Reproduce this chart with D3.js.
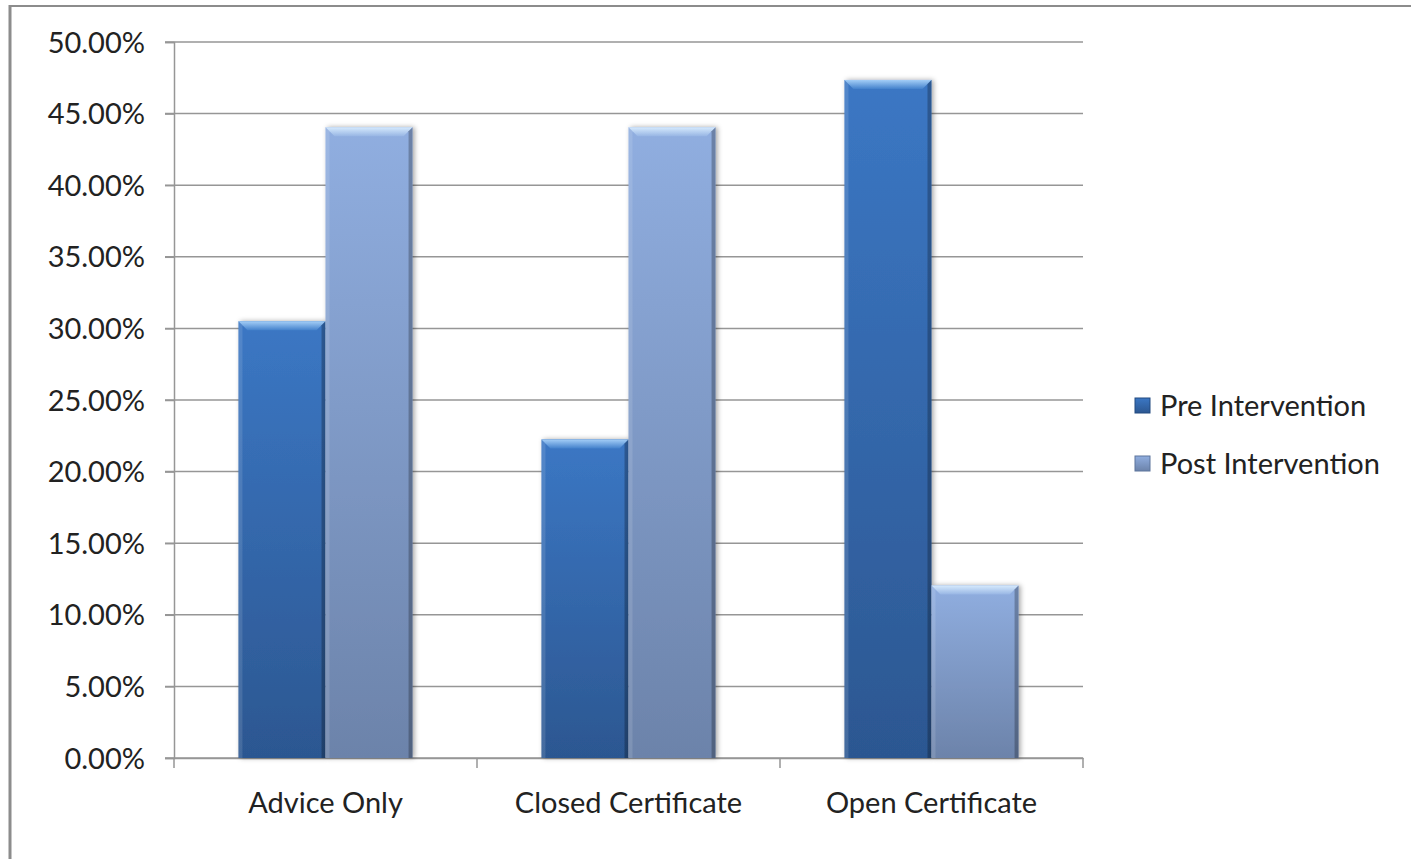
<!DOCTYPE html>
<html>
<head>
<meta charset="utf-8">
<title>Intervention chart</title>
<script src="https://cdn.jsdelivr.net/npm/d3@7"></script>
<style>
  body { margin: 0; background: #fff; }
  text { font-family: Lato, "Open Sans", sans-serif; fill: #222; }
</style>
</head>
<body>
<script>
var categories = ["Advice Only", "Closed Certificate", "Open Certificate"];
var seriesNames = ["Pre Intervention", "Post Intervention"];
var preValues = [0.305, 0.2225, 0.4735];
var postValues = [0.4405, 0.4405, 0.1205];
var yTicks = [0, 0.05, 0.10, 0.15, 0.20, 0.25, 0.30, 0.35, 0.40, 0.45, 0.50];

var width = 1411, height = 859;
var plotLeft = 174, plotRight = 1083, plotTop = 42, plotBottom = 758;

var svg = d3.select("body").append("svg")
  .attr("width", width)
  .attr("height", height);

var defs = svg.append("defs");
function grad(id, c1, c2) {
  var g = defs.append("linearGradient").attr("id", id)
    .attr("x1", 0).attr("y1", 0).attr("x2", 0).attr("y2", 1);
  g.append("stop").attr("offset", "0%").attr("stop-color", c1);
  g.append("stop").attr("offset", "100%").attr("stop-color", c2);
}
grad("g0", "#3b77c4", "#2c5791");
grad("g1", "#90aee0", "#6c83aa");
grad("b0", "#a4cef7", "#4482cc");
grad("b1", "#d6eafd", "#98b6e4");
var f = defs.append("filter").attr("id", "sh").attr("x", -0.1).attr("width", 1.3);
f.append("feDropShadow").attr("dx", 2).attr("dy", 0).attr("stdDeviation", 2.5)
  .attr("flood-color", "#000").attr("flood-opacity", 0.35);

// frame
svg.append("line").attr("x1", 10).attr("x2", 10).attr("y1", 5).attr("y2", height)
  .attr("stroke", "#8c8c8c").attr("stroke-width", 3);
svg.append("line").attr("x1", 9).attr("x2", width).attr("y1", 6).attr("y2", 6)
  .attr("stroke", "#8c8c8c").attr("stroke-width", 2);

var y = d3.scaleLinear().domain([0, 0.5]).range([plotBottom, plotTop]);
var x = d3.scaleBand().domain(categories).range([plotLeft, plotRight]).paddingInner(0).paddingOuter(0);
var xs = d3.scaleBand().domain([0, 1]).range([0, x.bandwidth()]).paddingInner(0).paddingOuter(0.74);

// grid
svg.append("g").selectAll("line").data(yTicks).enter().append("line")
  .attr("x1", plotLeft - 9).attr("x2", plotRight)
  .attr("y1", function(d) { return y(d); }).attr("y2", function(d) { return y(d); })
  .attr("stroke", "#969696").attr("stroke-width", 1.5);

// y axis
var yAxis = d3.axisLeft(y).tickValues(yTicks).tickFormat(d3.format(".2%")).tickSize(9);
var gy = svg.append("g").attr("transform", "translate(" + plotLeft + ",0)").call(yAxis);
gy.select(".domain").attr("stroke", "#969696").attr("stroke-width", 1.5);
gy.selectAll(".tick line").attr("stroke", "#969696").attr("stroke-width", 1.5);
gy.selectAll("text").attr("x", -29).attr("dy", "0.35em").style("font-size", "29px").attr("fill", "#222");

// x axis
var xAxis = d3.axisBottom(x).tickSize(0).tickSizeOuter(0);
var gx = svg.append("g").attr("transform", "translate(0," + plotBottom + ")").call(xAxis);
gx.select(".domain").attr("stroke", "#969696").attr("stroke-width", 1.5);
gx.selectAll("text").attr("y", 34).style("font-size", "29px").attr("fill", "#222");
var bounds = categories.map(function(c) { return x(c); }).concat([plotRight]);
gx.selectAll(".sep").data(bounds).enter().append("line")
  .attr("x1", function(d) { return d; }).attr("x2", function(d) { return d; })
  .attr("y1", 0).attr("y2", 10).attr("stroke", "#969696").attr("stroke-width", 1.5);

// bars
var rows = [];
categories.forEach(function(c, i) {
  rows.push({ cat: c, s: 0, v: preValues[i] });
  rows.push({ cat: c, s: 1, v: postValues[i] });
});
var bars = svg.append("g").selectAll("g").data(rows).enter().append("g");
bars.append("rect")
  .attr("x", function(d) { return x(d.cat) + xs(d.s); })
  .attr("y", function(d) { return y(d.v); })
  .attr("width", xs.bandwidth())
  .attr("height", function(d) { return y(0) - y(d.v); })
  .attr("fill", function(d) { return "url(#g" + d.s + ")"; })
  .attr("filter", "url(#sh)");
// top bevel
var bv = 9;
bars.append("polygon")
  .attr("points", function(d) {
    var x0 = x(d.cat) + xs(d.s), x1 = x0 + xs.bandwidth(), y0 = y(d.v);
    return [[x0, y0], [x1, y0], [x1 - bv, y0 + bv], [x0 + bv, y0 + bv]].join(" ");
  })
  .attr("fill", function(d) { return "url(#b" + d.s + ")"; });
// side bevels
bars.append("polygon")
  .attr("points", function(d) {
    var x0 = x(d.cat) + xs(d.s), y0 = y(d.v);
    return [[x0, y0], [x0 + 4, y0 + 4], [x0 + 4, y(0)], [x0, y(0)]].join(" ");
  })
  .attr("fill", "#fff").attr("opacity", 0.12);
bars.append("polygon")
  .attr("points", function(d) {
    var x1 = x(d.cat) + xs(d.s) + xs.bandwidth(), y0 = y(d.v);
    return [[x1, y0], [x1 - 4, y0 + 4], [x1 - 4, y(0)], [x1, y(0)]].join(" ");
  })
  .attr("fill", "#000").attr("opacity", 0.25);

// legend
var legend = svg.append("g").selectAll("g").data(seriesNames).enter().append("g")
  .attr("transform", function(d, i) { return "translate(1135," + (398 + i * 58) + ")"; });
legend.append("rect").attr("width", 15).attr("height", 15)
  .attr("fill", function(d, i) { return "url(#g" + i + ")"; })
  .attr("stroke", function(d, i) { return i ? "#5d759c" : "#224a80"; }).attr("stroke-width", 1);
legend.append("text").attr("x", 25).attr("y", 8).attr("dy", "0.36em")
  .style("font-size", "29px").text(function(d) { return d; });
</script>
</body>
</html>
